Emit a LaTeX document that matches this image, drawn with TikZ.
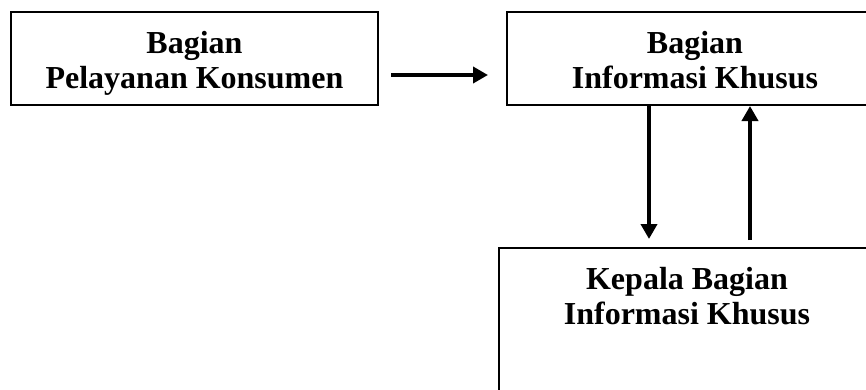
\documentclass[tikz,border=0pt]{standalone}
\usepackage{fontspec}
\setmainfont{Liberation Serif}
\usetikzlibrary{arrows.meta}
\begin{document}
\begin{tikzpicture}[x=1pt,y=1pt,
  box/.style={draw=black, line width=2pt, rectangle, inner sep=0pt},
  label/.style={align=center, inner sep=0pt, anchor=north,
    font=\fontsize{32}{35}\selectfont\bfseries},
  arr/.style={line width=4pt, -{Triangle[width=16pt,length=15pt]}}]
\useasboundingbox (0,0) rectangle (866,389);
\clip (0,0) rectangle (866,389);
\node[box, minimum width=367pt, minimum height=93pt] (box1) at (194.5,330.5) {};
\node[box, minimum width=376pt, minimum height=93pt] (box2) at (695,330.5) {};
\node[box, minimum width=376pt, minimum height=152pt] (box3) at (687,65) {};
\node[label] (t1) at (194.5,358) {Bagian\\Pelayanan Konsumen};
\node[label] (t2) at (695,358) {Bagian\\Informasi Khusus};
\node[label] (t3) at (687,122) {Kepala Bagian\\Informasi Khusus};
\draw[arr] ([shift={(12pt,31pt)}]box1.south east) -- ([shift={(-18pt,31pt)}]box2.south west);
\draw[arr] ([xshift=143pt]box2.south west) -- ([shift={(151pt,8pt)}]box3.north west);
\draw[arr] ([shift={(252pt,7pt)}]box3.north west) -- ([xshift=244pt]box2.south west);
\end{tikzpicture}
\end{document}
